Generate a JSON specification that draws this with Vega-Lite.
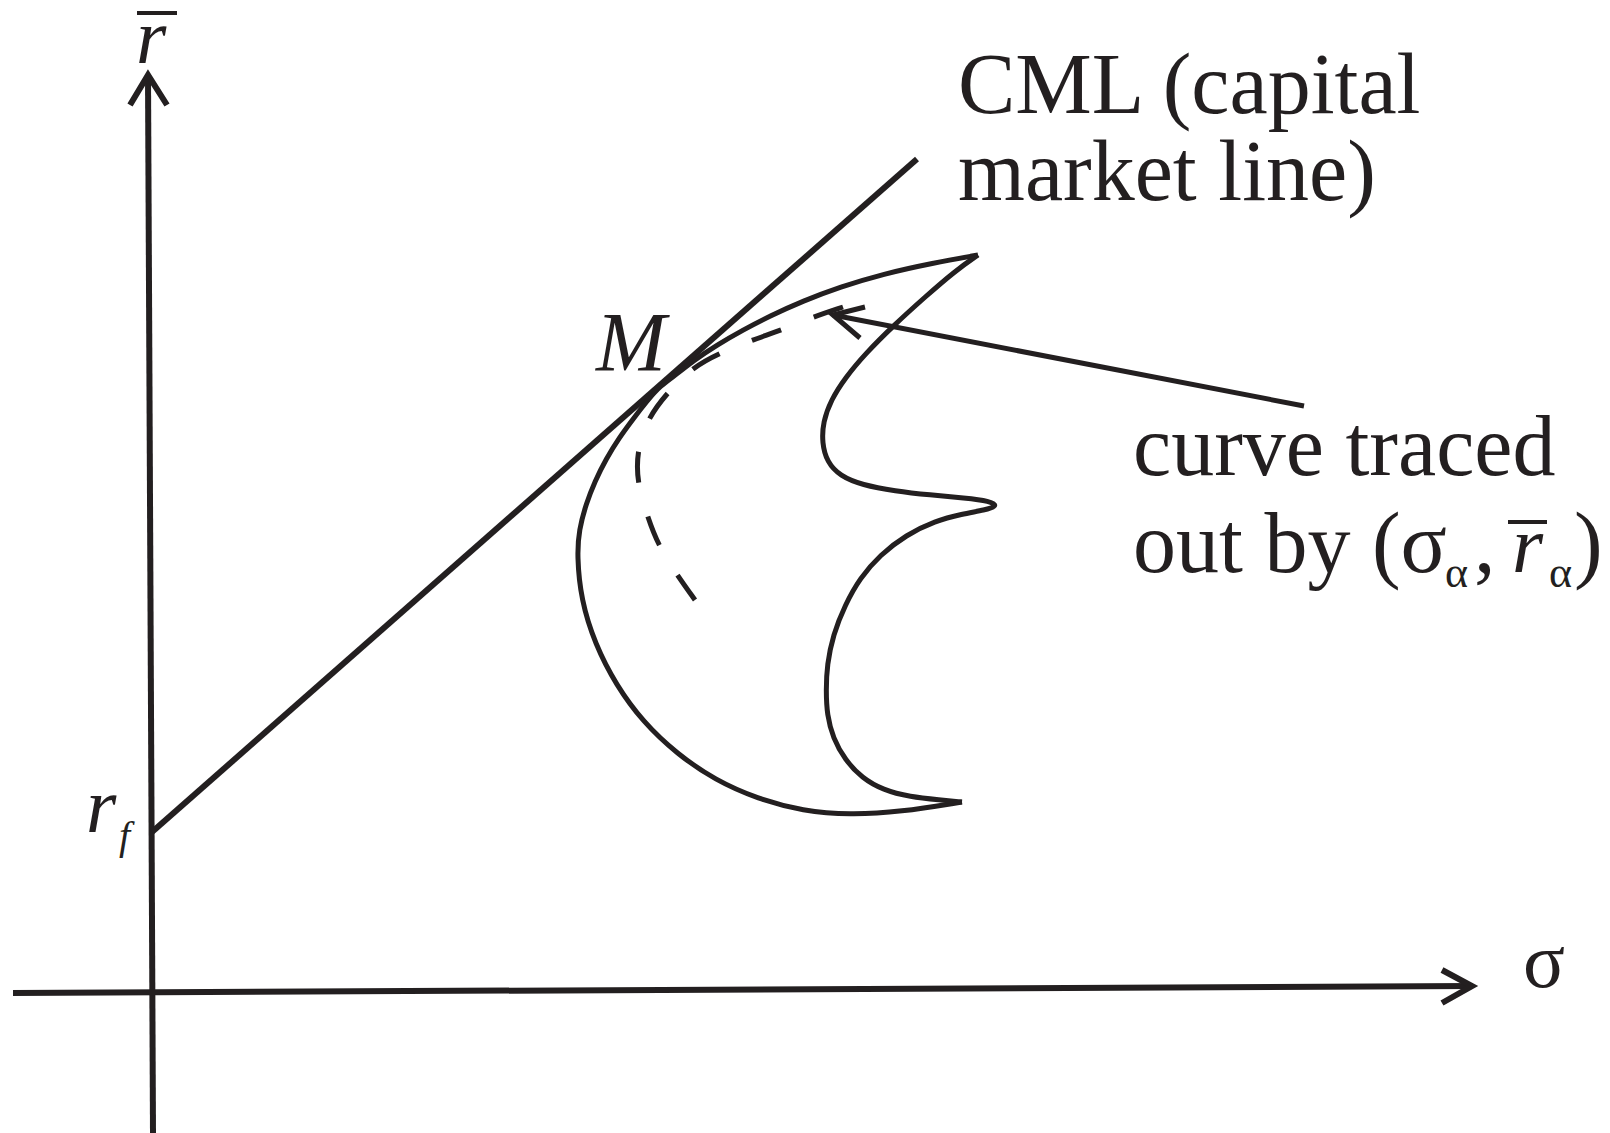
{
  "$schema": "https://vega.github.io/schema/vega-lite/v6.json",
  "width": 1610,
  "height": 1133,
  "autosize": {"type": "none"},
  "padding": 0,
  "background": "white",
  "config": {"view": {"stroke": null}},
  "datasets": {
    "straight": [
      {"id": "yaxis", "k": 1, "s": -2, "r": 915},
      {"id": "yaxis", "k": 2, "s": 3, "r": -143},
      {"id": "yhead", "k": 1, "s": -20, "r": 885},
      {"id": "yhead", "k": 2, "s": -2, "r": 915},
      {"id": "yhead", "k": 3, "s": 17, "r": 885},
      {"id": "xaxis", "k": 1, "s": -137, "r": -3},
      {"id": "xaxis", "k": 2, "s": 1322, "r": 4},
      {"id": "xhead", "k": 1, "s": 1292, "r": 20},
      {"id": "xhead", "k": 2, "s": 1322, "r": 4},
      {"id": "xhead", "k": 3, "s": 1292, "r": -13},
      {"id": "cml", "k": 1, "s": 2, "r": 158},
      {"id": "cml", "k": 2, "s": 767, "r": 831}
    ],
    "pointer": [
      {"id": "shaft", "k": 1, "s": 1154, "r": 584},
      {"id": "shaft", "k": 2, "s": 683, "r": 675},
      {"id": "head", "k": 1, "s": 715, "r": 683},
      {"id": "head", "k": 2, "s": 683, "r": 675},
      {"id": "head", "k": 3, "s": 710, "r": 652}
    ],
    "bars": [
      {"id": "rbar", "k": 1, "s": -13, "r": 977},
      {"id": "rbar", "k": 2, "s": 27, "r": 977},
      {"id": "rabar", "k": 1, "s": 1358, "r": 468},
      {"id": "rabar", "k": 2, "s": 1397, "r": 468}
    ],
    "frontier": [
      {"id": "outer", "k": 1, "s": 828, "r": 735},
      {"id": "outer", "k": 2, "s": 783, "r": 727},
      {"id": "outer", "k": 3, "s": 733, "r": 716},
      {"id": "outer", "k": 4, "s": 690, "r": 703},
      {"id": "outer", "k": 5, "s": 653, "r": 689},
      {"id": "outer", "k": 6, "s": 620, "r": 674},
      {"id": "outer", "k": 7, "s": 593, "r": 660},
      {"id": "outer", "k": 8, "s": 567, "r": 645},
      {"id": "outer", "k": 9, "s": 543, "r": 629},
      {"id": "outer", "k": 10, "s": 527, "r": 616},
      {"id": "outer", "k": 11, "s": 510, "r": 604},
      {"id": "outer", "k": 12, "s": 497, "r": 589},
      {"id": "outer", "k": 13, "s": 483, "r": 571},
      {"id": "outer", "k": 14, "s": 469, "r": 552},
      {"id": "outer", "k": 15, "s": 456, "r": 531},
      {"id": "outer", "k": 16, "s": 445, "r": 509},
      {"id": "outer", "k": 17, "s": 436, "r": 486},
      {"id": "outer", "k": 18, "s": 429, "r": 460},
      {"id": "outer", "k": 19, "s": 427, "r": 435},
      {"id": "outer", "k": 20, "s": 431, "r": 390},
      {"id": "outer", "k": 21, "s": 445, "r": 346},
      {"id": "outer", "k": 22, "s": 466, "r": 305},
      {"id": "outer", "k": 23, "s": 493, "r": 268},
      {"id": "outer", "k": 24, "s": 527, "r": 236},
      {"id": "outer", "k": 25, "s": 565, "r": 210},
      {"id": "outer", "k": 26, "s": 608, "r": 191},
      {"id": "outer", "k": 27, "s": 653, "r": 179},
      {"id": "outer", "k": 28, "s": 700, "r": 175},
      {"id": "outer", "k": 29, "s": 750, "r": 178},
      {"id": "outer", "k": 30, "s": 812, "r": 188},
      {"id": "inner", "k": 1, "s": 812, "r": 188},
      {"id": "inner", "k": 2, "s": 790, "r": 190},
      {"id": "inner", "k": 3, "s": 760, "r": 193},
      {"id": "inner", "k": 4, "s": 733, "r": 200},
      {"id": "inner", "k": 5, "s": 712, "r": 212},
      {"id": "inner", "k": 6, "s": 695, "r": 230},
      {"id": "inner", "k": 7, "s": 683, "r": 252},
      {"id": "inner", "k": 8, "s": 677, "r": 275},
      {"id": "inner", "k": 9, "s": 676, "r": 300},
      {"id": "inner", "k": 10, "s": 677, "r": 325},
      {"id": "inner", "k": 11, "s": 683, "r": 355},
      {"id": "inner", "k": 12, "s": 695, "r": 385},
      {"id": "inner", "k": 13, "s": 710, "r": 412},
      {"id": "inner", "k": 14, "s": 730, "r": 435},
      {"id": "inner", "k": 15, "s": 756, "r": 455},
      {"id": "inner", "k": 16, "s": 785, "r": 469},
      {"id": "inner", "k": 17, "s": 812, "r": 476},
      {"id": "inner", "k": 18, "s": 835, "r": 480},
      {"id": "inner", "k": 19, "s": 848, "r": 484},
      {"id": "inner", "k": 20, "s": 840, "r": 489},
      {"id": "inner", "k": 21, "s": 815, "r": 492},
      {"id": "inner", "k": 22, "s": 780, "r": 495},
      {"id": "inner", "k": 23, "s": 745, "r": 499},
      {"id": "inner", "k": 24, "s": 712, "r": 505},
      {"id": "inner", "k": 25, "s": 690, "r": 514},
      {"id": "inner", "k": 26, "s": 677, "r": 528},
      {"id": "inner", "k": 27, "s": 672, "r": 547},
      {"id": "inner", "k": 28, "s": 673, "r": 568},
      {"id": "inner", "k": 29, "s": 681, "r": 590},
      {"id": "inner", "k": 30, "s": 695, "r": 612},
      {"id": "inner", "k": 31, "s": 715, "r": 636},
      {"id": "inner", "k": 32, "s": 743, "r": 664},
      {"id": "inner", "k": 33, "s": 775, "r": 693},
      {"id": "inner", "k": 34, "s": 805, "r": 719},
      {"id": "inner", "k": 35, "s": 828, "r": 735}
    ],
    "traced": [
      {"k": 1, "s": 693, "r": 683},
      {"k": 2, "s": 663, "r": 673},
      {"k": 3, "s": 632, "r": 660},
      {"k": 4, "s": 602, "r": 650},
      {"k": 5, "s": 570, "r": 637},
      {"k": 6, "s": 543, "r": 623},
      {"k": 7, "s": 517, "r": 597},
      {"k": 8, "s": 498, "r": 572},
      {"k": 9, "s": 487, "r": 540},
      {"k": 10, "s": 487, "r": 508},
      {"k": 11, "s": 497, "r": 475},
      {"k": 12, "s": 508, "r": 445},
      {"k": 13, "s": 527, "r": 415},
      {"k": 14, "s": 545, "r": 390}
    ],
    "labels": [
      {"role": "body", "label": "CML (capital", "s": 808, "r": 877},
      {"role": "body", "label": "market line)", "s": 808, "r": 790},
      {"role": "body", "label": "curve traced", "s": 983, "r": 515},
      {"role": "body", "label": "out by (σ", "s": 983, "r": 418},
      {"role": "body", "label": ",", "s": 1324, "r": 418},
      {"role": "body", "label": ")", "s": 1424, "r": 418},
      {"role": "sub", "label": "α", "s": 1295, "r": 403},
      {"role": "sub", "label": "α", "s": 1399, "r": 403},
      {"role": "bodyItalic", "label": "r", "s": 1362, "r": 418},
      {"role": "point", "label": "M", "s": 446, "r": 619},
      {"role": "symbol", "label": "r", "s": -14, "r": 927},
      {"role": "symbol", "label": "r", "s": -64, "r": 158},
      {"role": "subItalic", "label": "f", "s": -31, "r": 141},
      {"role": "axisName", "label": "σ", "s": 1373, "r": 3}
    ]
  },
  "encoding": {
    "x": {"field": "s", "type": "quantitative", "scale": {"domain": [-150, 1460], "nice": false, "zero": false}, "axis": null},
    "y": {"field": "r", "type": "quantitative", "scale": {"domain": [-143, 990], "nice": false, "zero": false}, "axis": null}
  },
  "layer": [
    {
      "data": {"name": "straight"},
      "mark": {"type": "line", "color": "#231f20", "strokeWidth": 6, "strokeCap": "butt", "strokeJoin": "miter"},
      "encoding": {"detail": {"field": "id"}, "order": {"field": "k"}}
    },
    {
      "data": {"name": "pointer"},
      "mark": {"type": "line", "color": "#231f20", "strokeWidth": 5, "strokeCap": "butt", "strokeJoin": "miter"},
      "encoding": {"detail": {"field": "id"}, "order": {"field": "k"}}
    },
    {
      "data": {"name": "bars"},
      "mark": {"type": "line", "color": "#231f20", "strokeWidth": 4, "strokeCap": "butt"},
      "encoding": {"detail": {"field": "id"}, "order": {"field": "k"}}
    },
    {
      "data": {"name": "frontier"},
      "mark": {"type": "line", "color": "#231f20", "strokeWidth": 5, "interpolate": "basis", "strokeCap": "butt", "strokeJoin": "miter"},
      "encoding": {"detail": {"field": "id"}, "order": {"field": "k"}}
    },
    {
      "data": {"name": "traced"},
      "mark": {"type": "line", "color": "#231f20", "strokeWidth": 5, "interpolate": "basis", "strokeCap": "butt", "strokeDash": [31, 35]},
      "encoding": {"order": {"field": "k"}}
    },
    {
      "data": {"name": "labels"},
      "transform": [{"filter": "datum.role === 'body'"}],
      "mark": {"type": "text", "align": "left", "baseline": "alphabetic", "font": "Liberation Serif", "fontSize": 86, "color": "#231f20"},
      "encoding": {"text": {"field": "label"}}
    },
    {
      "data": {"name": "labels"},
      "transform": [{"filter": "datum.role === 'bodyItalic'"}],
      "mark": {"type": "text", "align": "left", "baseline": "alphabetic", "font": "Liberation Serif", "fontStyle": "italic", "fontSize": 80, "color": "#231f20"},
      "encoding": {"text": {"field": "label"}}
    },
    {
      "data": {"name": "labels"},
      "transform": [{"filter": "datum.role === 'point'"}],
      "mark": {"type": "text", "align": "left", "baseline": "alphabetic", "font": "Liberation Serif", "fontStyle": "italic", "fontSize": 84, "color": "#231f20"},
      "encoding": {"text": {"field": "label"}}
    },
    {
      "data": {"name": "labels"},
      "transform": [{"filter": "datum.role === 'symbol'"}],
      "mark": {"type": "text", "align": "left", "baseline": "alphabetic", "font": "Liberation Serif", "fontStyle": "italic", "fontSize": 78, "color": "#231f20"},
      "encoding": {"text": {"field": "label"}}
    },
    {
      "data": {"name": "labels"},
      "transform": [{"filter": "datum.role === 'sub'"}],
      "mark": {"type": "text", "align": "left", "baseline": "alphabetic", "font": "Liberation Serif", "fontSize": 44, "color": "#231f20"},
      "encoding": {"text": {"field": "label"}}
    },
    {
      "data": {"name": "labels"},
      "transform": [{"filter": "datum.role === 'subItalic'"}],
      "mark": {"type": "text", "align": "left", "baseline": "alphabetic", "font": "Liberation Serif", "fontStyle": "italic", "fontSize": 40, "color": "#231f20"},
      "encoding": {"text": {"field": "label"}}
    },
    {
      "data": {"name": "labels"},
      "transform": [{"filter": "datum.role === 'axisName'"}],
      "mark": {"type": "text", "align": "left", "baseline": "alphabetic", "font": "Liberation Serif", "fontSize": 78, "color": "#231f20"},
      "encoding": {"text": {"field": "label"}}
    }
  ]
}
